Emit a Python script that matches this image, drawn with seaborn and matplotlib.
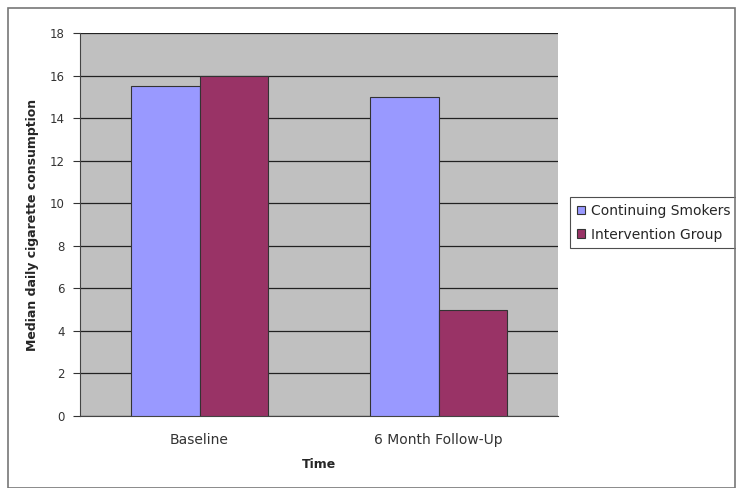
import pandas as pd
import numpy as np
import matplotlib
matplotlib.use("Agg")
import matplotlib.pyplot as plt
import seaborn as sns
from matplotlib.patches import Rectangle

# data
times = ["Baseline", "6 Month Follow-Up"]
groups = ["Continuing Smokers", "Intervention Group"]
smokers = [15.5, 15.0]
intervention = [16.0, 5.0]

df = pd.DataFrame({
    "Time": times * 2,
    "Group": [groups[0]] * 2 + [groups[1]] * 2,
    "Value": smokers + intervention,
})

sns.set_style("white")
plt.rcParams['font.family'] = ['DejaVu Sans']

fig = plt.figure(figsize=(7.36, 4.88), dpi=100)
ax = fig.add_axes([0.1087, 0.1475, 0.6495, 0.7845])
ax.set_facecolor("#C0C0C0")

sns.barplot(data=df, x="Time", y="Value", hue="Group", order=times, hue_order=groups,
            palette=["#9999FF", "#993366"], saturation=1, width=0.57,
            edgecolor="#333333", linewidth=0.8, ax=ax, zorder=3)

ax.set_ylim(0, 18)
ax.set_yticks(range(0, 19, 2))
ax.yaxis.grid(True, color="#222222", linewidth=0.9, zorder=0)
ax.set_axisbelow(True)
ax.tick_params(axis="y", labelsize=8.5, colors="#333333", length=5, direction="out", left=True, pad=6)
ax.tick_params(axis="x", labelsize=10, colors="#333333", length=0, pad=12)
for s in ["top", "right"]:
    ax.spines[s].set_visible(False)
ax.spines["left"].set_color("#444444")
ax.spines["bottom"].set_color("#444444")

ax.set_xlabel("Time", fontsize=9, fontweight="bold", labelpad=8)
ax.set_ylabel("Median daily cigarette consumption", fontsize=9, fontweight="bold", labelpad=8)

leg = ax.legend(loc="center left", bbox_to_anchor=(1.025, 0.505), fontsize=10, frameon=True,
                fancybox=False, edgecolor="#222222", handlelength=0.6, handleheight=0.6,
                handletextpad=0.4, borderpad=0.5, labelspacing=0.7, borderaxespad=0)
leg.get_frame().set_linewidth(0.8)

# outer chart border
fig.patches.append(Rectangle((0.011, 0.0), 0.988, 0.983, transform=fig.transFigure,
                             fill=False, edgecolor="#777777", linewidth=1.2))

fig.savefig("out.png", dpi=100)
